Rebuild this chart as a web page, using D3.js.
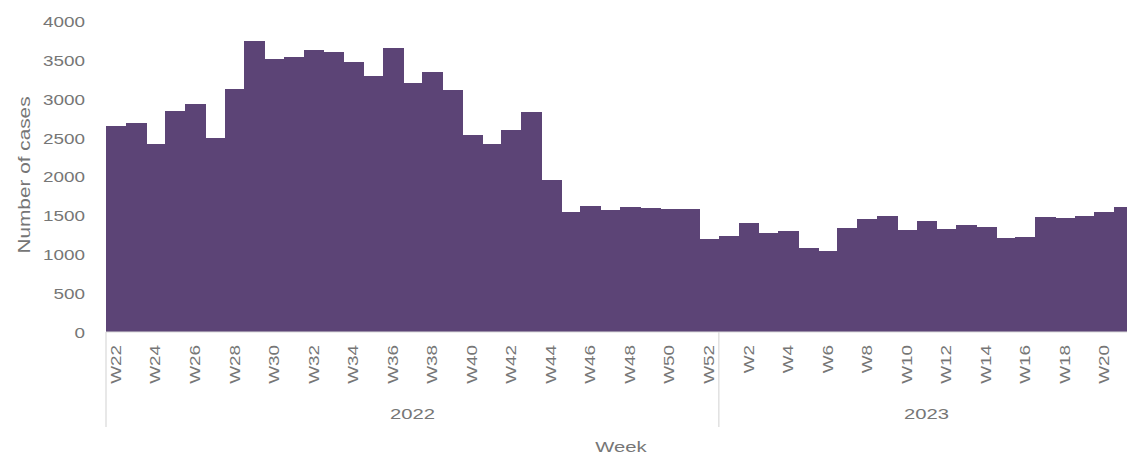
<!DOCTYPE html>
<html>
<head>
<meta charset="utf-8">
<script src="https://cdn.jsdelivr.net/npm/d3@7"></script>
<style>
  html, body { margin: 0; padding: 0; background: #fff; }
  svg { display: block; font-family: "Liberation Sans", Arial, sans-serif; }
</style>
</head>
<body>
<svg id="chart" width="1127" height="459"></svg>
<script>
// ---- data ----
const weeks2022 = ["W22","W23","W24","W25","W26","W27","W28","W29","W30","W31","W32","W33","W34","W35","W36","W37","W38","W39","W40","W41","W42","W43","W44","W45","W46","W47","W48","W49","W50","W51","W52"];
const cases2022 = [2643,2677,2411,2840,2922,2484,3115,3740,3504,3534,3620,3590,3470,3282,3642,3192,3341,3106,2527,2407,2591,2819,1948,1541,1618,1565,1595,1590,1570,1570,1188];
const weeks2023 = ["W1","W2","W3","W4","W5","W6","W7","W8","W9","W10","W11","W12","W13","W14","W15","W16","W17","W18","W19","W20","W21"];
const cases2023 = [1225,1390,1272,1290,1075,1030,1327,1447,1485,1305,1421,1318,1370,1348,1199,1211,1476,1456,1485,1541,1597];
const years = ["2022","2023"];
const yTicks = [0,500,1000,1500,2000,2500,3000,3500,4000];
const yTitle = "Number of cases";
const xTitle = "Week";

(function () {
// ---- build rows ----
const rows = [];
weeks2022.forEach((w,i) => rows.push({key: "2022-" + w, week: w, year: "2022", value: cases2022[i]}));
weeks2023.forEach((w,i) => rows.push({key: "2023-" + w, week: w, year: "2023", value: cases2023[i]}));

const svg = d3.select("#chart");
const plotLeft = 106, plotRight = 1134, plotTop = 20.5, plotBase = 331.5;
const textColor = "#767676";
const lineColor = "#d9d9d9";
const barColor = "#5c4476";
const stretch = 1.35;

const x = d3.scaleBand().domain(rows.map(d => d.key)).range([plotLeft, plotRight]).padding(0);
const y = d3.scaleLinear().domain([0, 4000]).range([plotBase, plotTop]);

// bars
svg.append("g").attr("shape-rendering", "crispEdges")
  .selectAll("rect").data(rows).join("rect")
  .attr("x", d => x(d.key))
  .attr("width", x.bandwidth() + 1)
  .attr("y", d => y(d.value))
  .attr("height", d => y(0) - y(d.value))
  .attr("fill", barColor);

// y axis
const yAxis = svg.append("g").attr("transform", `translate(${plotLeft},0)`)
  .call(d3.axisLeft(y).tickValues(yTicks).tickSize(0).tickFormat(d3.format("d")));
yAxis.select(".domain").remove();
yAxis.selectAll("text")
  .attr("x", 0).attr("dy", "0.35em")
  .attr("transform", `translate(-21,1) scale(${stretch},1)`)
  .attr("fill", textColor).attr("font-size", 14)
  .attr("font-family", "Liberation Sans, Arial, sans-serif");

// x axis (week labels, every second week)
const tickKeys = rows.filter((d,i) => i % 2 === 0).map(d => d.key);
const weekOf = new Map(rows.map(d => [d.key, d.week]));
const xAxis = svg.append("g").attr("transform", `translate(0,${plotBase + 0.5})`)
  .call(d3.axisBottom(x).tickValues(tickKeys).tickSize(0).tickFormat(k => weekOf.get(k)));
xAxis.select(".domain").attr("stroke", lineColor).attr("stroke-width", 1.2)
  .attr("d", `M${plotLeft},0H${plotRight}`);
xAxis.selectAll("text")
  .attr("x", 0).attr("y", 0).attr("dy", "0.36em")
  .attr("text-anchor", "end")
  .attr("transform", `rotate(-90) translate(-13,0) scale(${stretch},1)`)
  .attr("fill", textColor).attr("font-size", 14)
  .attr("font-family", "Liberation Sans, Arial, sans-serif");

// year group separators and labels
const groups = years.map(yr => {
  const keys = rows.filter(d => d.year === yr).map(d => d.key);
  return {year: yr, x0: x(keys[0]), x1: x(keys[keys.length - 1]) + x.bandwidth()};
});
const sepXs = [groups[0].x0, groups[0].x1, groups[1].x1];
svg.append("g").selectAll("line").data(sepXs).join("line")
  .attr("x1", d => d).attr("x2", d => d)
  .attr("y1", plotBase + 0.5).attr("y2", 427)
  .attr("stroke", lineColor).attr("stroke-width", 1.2);

svg.append("g").selectAll("text").data(groups).join("text")
  .attr("transform", d => `translate(${(d.x0 + d.x1) / 2},${419}) scale(${stretch},1)`)
  .attr("text-anchor", "middle")
  .attr("fill", textColor).attr("font-size", 15)
  .text(d => d.year);

// axis titles
svg.append("text")
  .attr("transform", `translate(${(plotLeft + plotRight) / 2 + 1},${452}) scale(${stretch},1)`)
  .attr("text-anchor", "middle")
  .attr("fill", textColor).attr("font-size", 15)
  .text(xTitle);

svg.append("text")
  .attr("transform", `translate(30,175) rotate(-90) scale(1.3,1)`)
  .attr("text-anchor", "middle")
  .attr("fill", textColor).attr("font-size", 16)
  .text(yTitle);
})();
</script>
</body>
</html>
